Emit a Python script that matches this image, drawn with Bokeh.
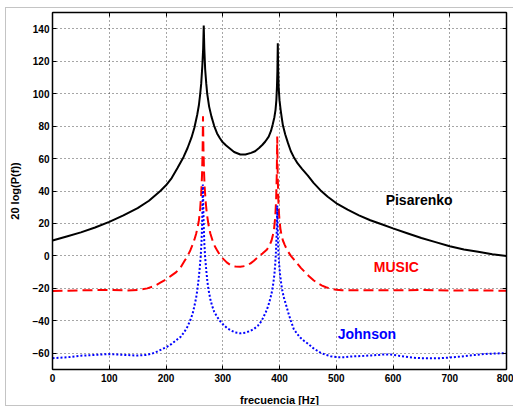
from bokeh.plotting import figure
from bokeh.models import Range1d, FixedTicker, LinearAxis, InlineStyleSheet
from bokeh.core.properties import value
from bokeh.embed import file_html
from bokeh.resources import INLINE

# ---- data ----
pis_f = [0, 25, 50, 75, 100, 125, 150, 170, 190, 200, 210, 220, 231, 238, 245, 250, 255, 258, 260, 262,
         264, 265.5, 266.5, 267.5, 269, 271, 272.6, 276, 280, 285, 290, 295, 300, 306, 313, 320, 331,
         340, 350, 357, 364, 370, 375, 381, 385, 388, 391, 393, 394.5, 395.5, 396.3, 397, 397.7, 398.5,
         400, 402, 404, 406, 410, 415, 420, 425, 432, 440, 450, 460, 472, 485, 502, 520, 540, 560, 580,
         600, 625, 650, 675, 700, 725, 750, 775, 800]
pis_v = [9.5, 12, 14.5, 17.5, 21, 25, 29.5, 34, 40, 43.5, 48, 54, 61, 66.5, 73, 79, 87, 93, 99, 106,
         117, 128, 142, 128, 115, 106, 100, 92, 86, 80, 75.5, 72.5, 70, 68, 66, 64, 62.5,
         62.5, 63.5, 64.5, 66.5, 68.5, 70.5, 73.5, 77, 81, 85.5, 90, 96, 104, 114, 131, 114, 104,
         96, 90, 85, 80.5, 75, 69.5, 64.5, 61, 57, 53.5, 49.5, 45, 40.5, 36.5, 32, 28.5, 25, 22, 19.5,
         17, 14, 11, 8.5, 6, 4, 2.5, 1, 0]

mus_f = [0, 50, 100, 130, 150, 167, 180, 190, 200, 210, 218, 226, 232, 238, 243, 247, 250, 253, 256,
         258, 260, 262, 263.5, 264.5, 265.2, 266, 267, 268, 270, 272, 275, 278, 282, 286, 290, 295,
         300, 307, 314, 322, 331, 340, 349, 355, 362, 370, 378, 383, 386, 388.5, 390.5, 392.5, 394,
         395.2, 396, 396.8, 398, 399.5, 401.5, 403.5, 406, 409, 413.5, 420, 426, 431, 438, 445, 452,
         460, 467, 475, 482, 490, 500, 510, 550, 600, 650, 700, 750, 800]
mus_v = [-21.7, -21.2, -21, -21.3, -21, -20, -18.5, -16.5, -14.5, -12, -10, -7, -3.5, 0, 3.5, 7, 10, 13.5, 18,
         22, 28, 38, 50, 65, 86, 66, 52, 43, 33, 26, 19, 14, 9.5, 6, 3.5, 0.5,
         -1.5, -4, -5.7, -6.5, -6.7, -6.2, -4.6, -3, -0.8, 1.5, 4, 7, 9.5, 13, 17, 24, 34,
         50, 73.6, 50, 34, 24, 17, 13, 9.5, 7, 3.5, 0, -2.5, -4.6, -7.5, -10, -12.5,
         -15, -16.8, -18.3, -19.3, -20.2, -20.8, -21.2, -21.2, -21.2, -21, -21.3, -21.2, -21.5]

joh_f = [0, 25, 50, 75, 100, 125, 150, 165, 175, 184, 193, 202, 210, 218, 226, 232, 238, 243, 247, 250,
         253, 255, 257, 259, 261, 262.5, 263.5, 264.3, 265, 265.7, 266.5, 267.5, 269, 271, 273, 275,
         278, 281, 285, 290, 295, 300, 308, 315, 322, 331, 340, 348, 355, 362, 368, 372, 376, 380,
         384, 387, 389, 391, 392.5, 393.8, 395, 396, 397, 398, 399.3, 401, 403, 405, 408, 411, 415,
         420, 425, 431, 437, 443, 449, 455, 460, 466, 472, 480, 490, 502, 515, 525, 537, 549, 562,
         575, 585, 596, 608, 620, 634, 648, 666, 684, 698, 710, 720, 731, 745, 760, 775, 789, 800]
joh_v = [-63, -62.5, -61.5, -61, -60.5, -61, -61.4, -61, -60.3, -59, -57.5, -56, -54.2, -52, -49.8, -47, -43.5, -39.5, -35.5, -31,
         -26, -21.5, -16, -9, -1, 8, 18, 30, 44, 30, 18, 8, -1, -9, -16, -21,
         -26.5, -30.5, -34.5, -37.5, -40, -42, -44.6, -46, -47.2, -47.7, -47.3, -46.3, -45, -43, -40.3, -37.5, -34.5, -31,
         -26, -21.5, -17, -11.5, -5, 3, 14, 31, 14, 3, -5, -11.5, -17, -21.5, -26, -29.5, -34.5,
         -40, -45, -48, -50.5, -52.3, -53.8, -55.5, -57, -58.3, -59.6, -60.8, -61.8, -62.4, -62.4, -62, -61.8, -61.6, -61.3,
         -61, -60.7, -60.8, -61.4, -62, -62.7, -63, -63.1, -63, -62.7, -62.3, -62, -61.6, -61, -60.5, -60.2, -60, -60]

x_ticks = [0, 100, 200, 300, 400, 500, 600, 700, 800]
y_ticks = [-60, -40, -20, 0, 20, 40, 60, 80, 100, 120, 140]

labels = ["Pisarenko", "MUSIC", "Johnson"]
label_colors = ["black", "#ff0000", "#0000ff"]

FONT = "Liberation Sans"

p = figure(width=513, height=408, output_backend="svg", toolbar_location=None,
           x_range=Range1d(0, 800), y_range=Range1d(-70, 150),
           min_border_left=52, min_border_right=7, min_border_top=12, min_border_bottom=39)
p.background_fill_color = "white"
p.border_fill_color = "white"
p.outline_line_color = "black"
p.outline_line_width = 1

# light window frame (MATLAB figure edge) drawn with CSS over the canvas
p.stylesheets = [InlineStyleSheet(css=(
    ":host::after { content: ''; position: absolute; left: 5px; top: 7px; "
    "width: 600px; height: 399px; border: 1px solid #c4c4c4; box-sizing: border-box; "
    "pointer-events: none; }"
    ":host { overflow: hidden; }"
))]

# grid
for g in (p.xgrid, p.ygrid):
    g.grid_line_color = "#3a3a3a"
    g.grid_line_dash = "1 3"
    g.grid_line_width = 1
    g.grid_line_alpha = 0.9
p.xgrid.ticker = FixedTicker(ticks=x_ticks)
p.ygrid.ticker = FixedTicker(ticks=y_ticks)

def style_axis(ax, ticks, show_labels=True):
    ax.ticker = FixedTicker(ticks=ticks)
    ax.axis_line_color = "black"
    ax.axis_line_width = 1.5
    ax.major_tick_in = 4
    ax.major_tick_out = 0
    ax.major_tick_line_color = "black"
    ax.minor_tick_line_color = None
    ax.major_label_text_font = FONT
    ax.major_label_text_font_style = "bold"
    ax.major_label_text_font_size = "10px"
    if show_labels:
        ax.major_label_text_color = "black"
        ax.major_label_standoff = 4
    else:
        ax.major_label_text_color = None
        ax.major_label_standoff = 0

style_axis(p.xaxis[0], x_ticks)
style_axis(p.yaxis[0], y_ticks)
p.yaxis[0].major_label_standoff = 3
p.xaxis[0].axis_label = "frecuencia [Hz]"
p.yaxis[0].axis_label = "20 log(P(f))"
for ax in (p.xaxis[0], p.yaxis[0]):
    ax.axis_label_text_font = FONT
    ax.axis_label_text_font_style = "bold"
    ax.axis_label_text_font_size = "11px"
    ax.axis_label_text_color = "black"
p.xaxis[0].axis_label_standoff = 9
p.yaxis[0].axis_label_standoff = 9

top_ax = LinearAxis()
style_axis(top_ax, x_ticks, show_labels=False)
p.add_layout(top_ax, "above")
right_ax = LinearAxis()
style_axis(right_ax, y_ticks, show_labels=False)
p.add_layout(right_ax, "right")

# curves
p.line(pis_f, pis_v, line_color="black", line_width=2)
p.line(mus_f, mus_v, line_color="#ff0000", line_width=2, line_dash="10 5")
p.line(joh_f, joh_v, line_color="#0000ff", line_width=2, line_dash="2 2")

# text labels
p.text(x=[646, 606, 554], y=[34.7, -6.7, -48.3], text=labels, text_color=label_colors,
       text_font=value(FONT), text_font_style="bold", text_font_size="14px",
       text_align="center", text_baseline="middle")

open("out.html", "w").write(file_html(p, INLINE))
